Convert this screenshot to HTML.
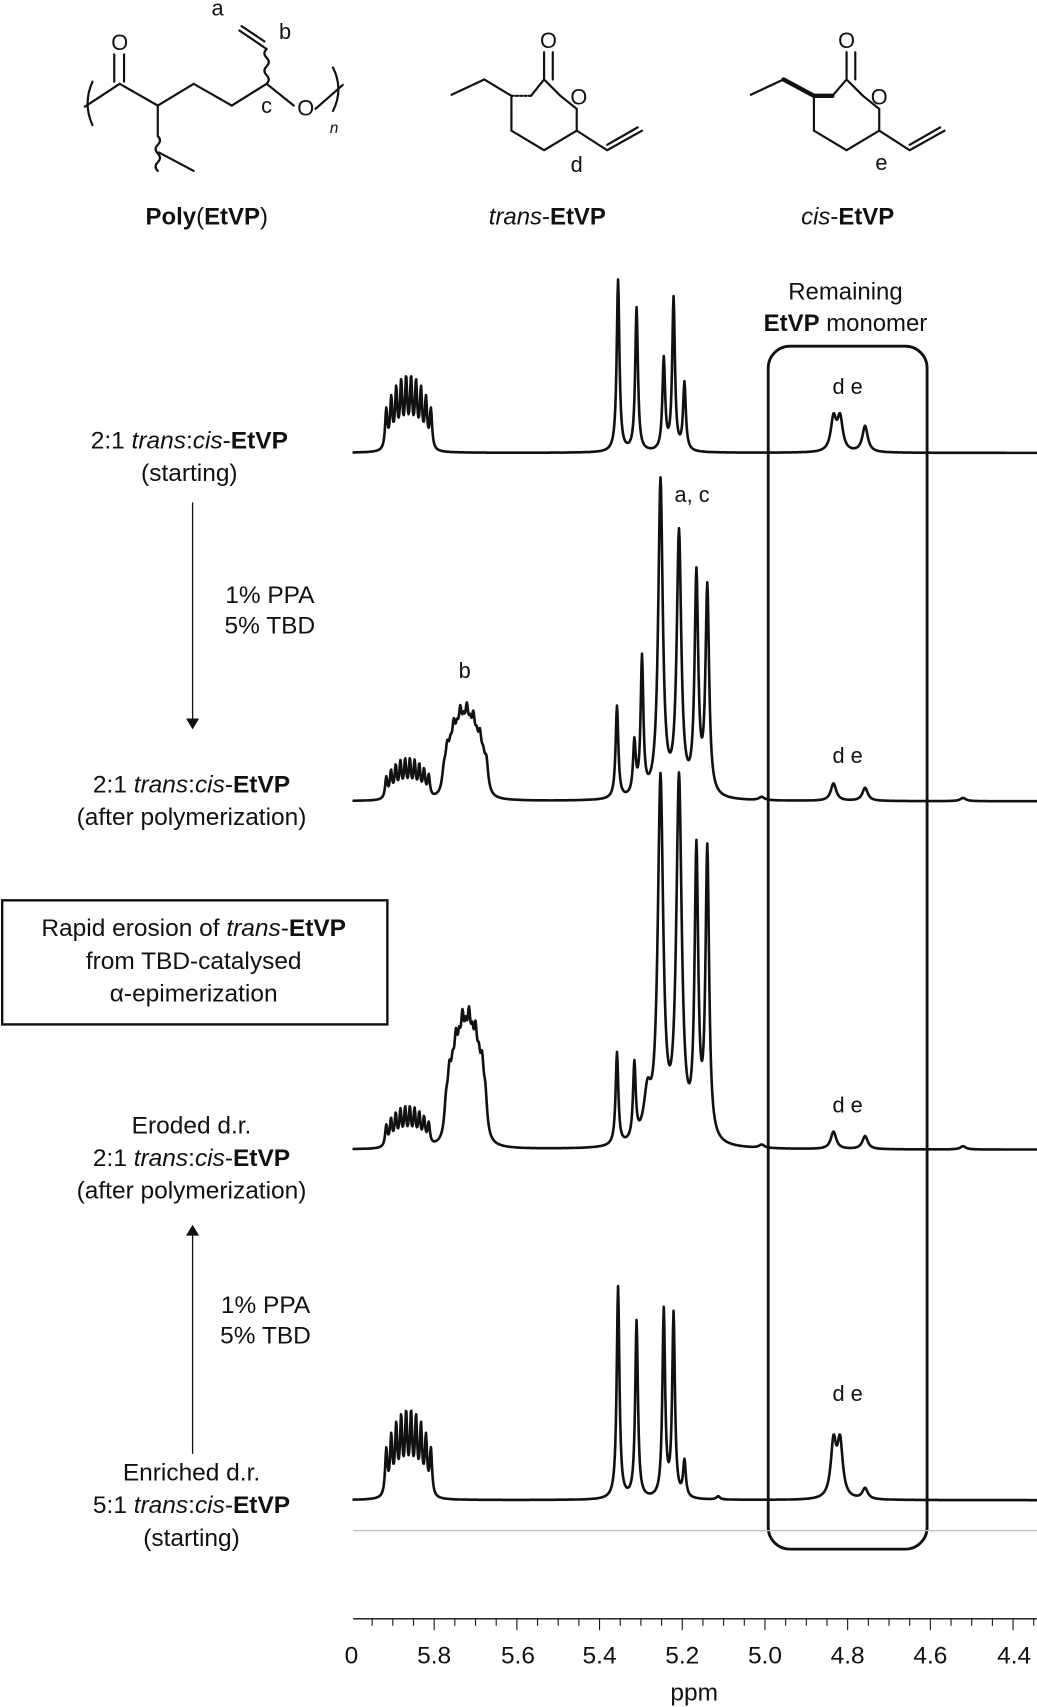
<!DOCTYPE html>
<html><head><meta charset="utf-8"><style>
html,body{margin:0;padding:0;background:#fff}
svg{display:block}
text{font-family:"Liberation Sans",sans-serif;fill:#111}
</style></head><body>
<svg id="s" width="1037" height="1707" viewBox="0 0 953 1568" preserveAspectRatio="none" xmlns="http://www.w3.org/2000/svg">
<g stroke="#111" stroke-width="2" fill="none" stroke-linecap="round">
<path d="M85 75 Q76 95 85 115"/>
<path d="M78 98 L110 77 L145 97 L178 77 L213 97 L245 77 L270 97"/>
<path d="M105 75 L105 50 M114 75 L114 50"/>
<path d="M145 97 L145 125"/>
<path d="M145 125 q4 4 0 8 q-4 4 0 8 q4 4 0 8 q-4 4 0 8"/>
<path d="M146 140 L178 157"/>
<path d="M245 77 q4 -4 0 -8 q-4 -4 0 -8 q4 -4 0 -8 q-4 -4 0 -8"/>
<path d="M245 45 L220 28 M243 38 L222 24"/>
<path d="M290 100 L315 78"/>
<path d="M306 62 Q316 82 306 102"/>
<path d="M415 87 L445 73 M445 73 L470 88 L470 120 L500 138 L530 120 L530 100 M530 100 L515 88 M500 73 L500 48 M508 73 L508 48 M488 88 L500 73 L515 88 M530 120 L558 138 L590 120 M558 133 L586 117"/>
<path d="M470 88 L488 88" stroke-dasharray="2 2"/>
<path d="M690 87 L720 73 M748 88 L748 120 L778 138 L808 120 L808 100 M808 100 L793 88 M778 73 L778 48 M786 73 L786 48 M765 88 L778 73 L793 88 M808 120 L836 138 L868 120 M836 133 L864 117"/>
<path d="M720 73 L748 88 L765 88" stroke-width="4"/>
<rect x="706" y="318" width="146" height="1105" rx="20" stroke-width="2.6"/>
<rect x="2" y="827" width="354" height="114" stroke-width="2.2"/>
<line x1="177" y1="462" x2="177" y2="662" stroke-width="1.2"/>
<line x1="177" y1="1130" x2="177" y2="1335" stroke-width="1.2"/>
<line x1="325" y1="1487" x2="953" y2="1487" stroke-width="1.2"/>
<line x1="325" y1="1406" x2="953" y2="1406" stroke="#bbb" stroke-width="1.2"/>
<g id="ticks" stroke-width="1"></g>
<g id="tr" stroke-width="2.4" stroke-linejoin="round"></g>
</g>
<path d="M171 660 L177 670 L183 660 Z M171 1135 L177 1125 L183 1135 Z" fill="#111"/>
<g font-size="20" text-anchor="middle">
<text x="110" y="46">O</text><text x="200" y="14">a</text><text x="262" y="36">b</text><text x="245" y="104">c</text><text x="281" y="106">O</text>
<text x="307" y="122" font-style="italic" font-size="14">n</text>
<text x="504" y="44">O</text><text x="532" y="96">O</text><text x="530" y="158">d</text>
<text x="778" y="44">O</text><text x="808" y="96">O</text><text x="810" y="156">e</text>
<text x="190" y="206" font-size="22"><tspan font-weight="bold">Poly</tspan>(<tspan font-weight="bold">EtVP</tspan>)</text>
<text x="503" y="206" font-size="22"><tspan font-style="italic">trans</tspan>-<tspan font-weight="bold">EtVP</tspan></text>
<text x="779" y="206" font-size="22"><tspan font-style="italic">cis</tspan>-<tspan font-weight="bold">EtVP</tspan></text>
<text x="777" y="275" font-size="22">Remaining</text>
<text x="777" y="304" font-size="22"><tspan font-weight="bold">EtVP</tspan> monomer</text>
<text x="779" y="362">d  e</text><text x="779" y="701">d  e</text><text x="779" y="1022">d  e</text><text x="779" y="1287">d  e</text>
<text x="636" y="461">a, c</text><text x="427" y="623">b</text>
<g font-size="22.5">
<text x="174" y="412">2:1 <tspan font-style="italic">trans</tspan>:<tspan font-style="italic">cis</tspan>-<tspan font-weight="bold">EtVP</tspan></text>
<text x="174" y="442">(starting)</text>
<text x="248" y="554">1% PPA</text><text x="248" y="582">5% TBD</text>
<text x="176" y="728">2:1 <tspan font-style="italic">trans</tspan>:<tspan font-style="italic">cis</tspan>-<tspan font-weight="bold">EtVP</tspan></text>
<text x="176" y="758">(after polymerization)</text>
<text x="178" y="860">Rapid erosion of <tspan font-style="italic">trans</tspan>-<tspan font-weight="bold">EtVP</tspan></text>
<text x="178" y="890">from TBD-catalysed</text>
<text x="178" y="920">α-epimerization</text>
<text x="176" y="1041">Eroded d.r.</text>
<text x="176" y="1071">2:1 <tspan font-style="italic">trans</tspan>:<tspan font-style="italic">cis</tspan>-<tspan font-weight="bold">EtVP</tspan></text>
<text x="176" y="1101">(after polymerization)</text>
<text x="244" y="1206">1% PPA</text><text x="244" y="1234">5% TBD</text>
<text x="176" y="1360">Enriched d.r.</text>
<text x="176" y="1390">5:1 <tspan font-style="italic">trans</tspan>:<tspan font-style="italic">cis</tspan>-<tspan font-weight="bold">EtVP</tspan></text>
<text x="176" y="1420">(starting)</text>
<text x="323" y="1528">0</text><text x="399" y="1528">5.8</text><text x="476" y="1528">5.6</text><text x="551" y="1528">5.4</text><text x="627" y="1528">5.2</text><text x="703" y="1528">5.0</text><text x="779" y="1528">4.8</text><text x="855" y="1528">4.6</text><text x="932" y="1528">4.4</text>
<text x="638" y="1562">ppm</text>
</g></g>
</svg>
<script>
var ns="http://www.w3.org/2000/svg";
var tk=document.getElementById("ticks");
for(var x=342;x<953;x+=19){var big=(Math.round((x-342)/19)%4==3);var l=document.createElementNS(ns,"line");l.setAttribute("x1",x);l.setAttribute("x2",x);l.setAttribute("y1",1487);l.setAttribute("y2",1487+(big?10:6));tk.appendChild(l);}
function mult(x0,x1,n,h){var a=[];for(var i=0;i<n;i++){var f=i/(n-1);a.push([x0+(x1-x0)*f,h*(0.6+0.4*Math.sin(Math.PI*f)),1.3]);}return a;}
function trace(base,peaks){var d="";for(var x=325;x<=953;x+=0.5){var y=0;peaks.forEach(function(p){var w=p[2],t=(x-p[0])/w;y+=p[1]/(1+t*t);});d+=(x==325?"M":"L")+x+" "+(base-y).toFixed(1);}
var p=document.createElementNS(ns,"path");p.setAttribute("d",d);document.getElementById("tr").appendChild(p);}
function bump(x0,x1,h){var a=[];for(var x=x0;x<=x1;x+=3)a.push([x,h*(0.5+0.5*Math.sin(Math.PI*(x-x0)/(x1-x0)))*(0.7+0.3*((x/3)%2)),2]);return a;}
trace(416,mult(355,396,10,60).concat([[568,158,1.5],[585,132,1.5],[610,84,1.5],[619,140,1.5],[629,62,1.5],[766,30,3],[772,30,3],[795,24,3]]));
trace(736,mult(355,394,10,32).concat(bump(408,447,52)).concat([[567,85,1.5],[583,48,1.5],[590,125,1.5],[607,290,2.5],[624,240,2.5],[640,200,2],[650,190,2],[766,16,3],[795,12,3],[700,3,3],[885,3,3]]));
trace(1056,mult(355,394,10,32).concat(bump(410,448,62)).concat([[567,85,1.5],[583,70,1.5],[595,40,4],[607,330,3],[624,330,3],[640,260,2],[650,265,2],[766,16,3],[795,12,3],[700,3,3],[885,3,3]]));
trace(1378,mult(355,396,10,70).concat([[568,195,1.5],[585,163,1.5],[610,172,1.5],[619,168,1.5],[629,33,1.5],[766,50,3],[772,50,3],[795,10,3],[660,3,2]]));
</script>
</body></html>
